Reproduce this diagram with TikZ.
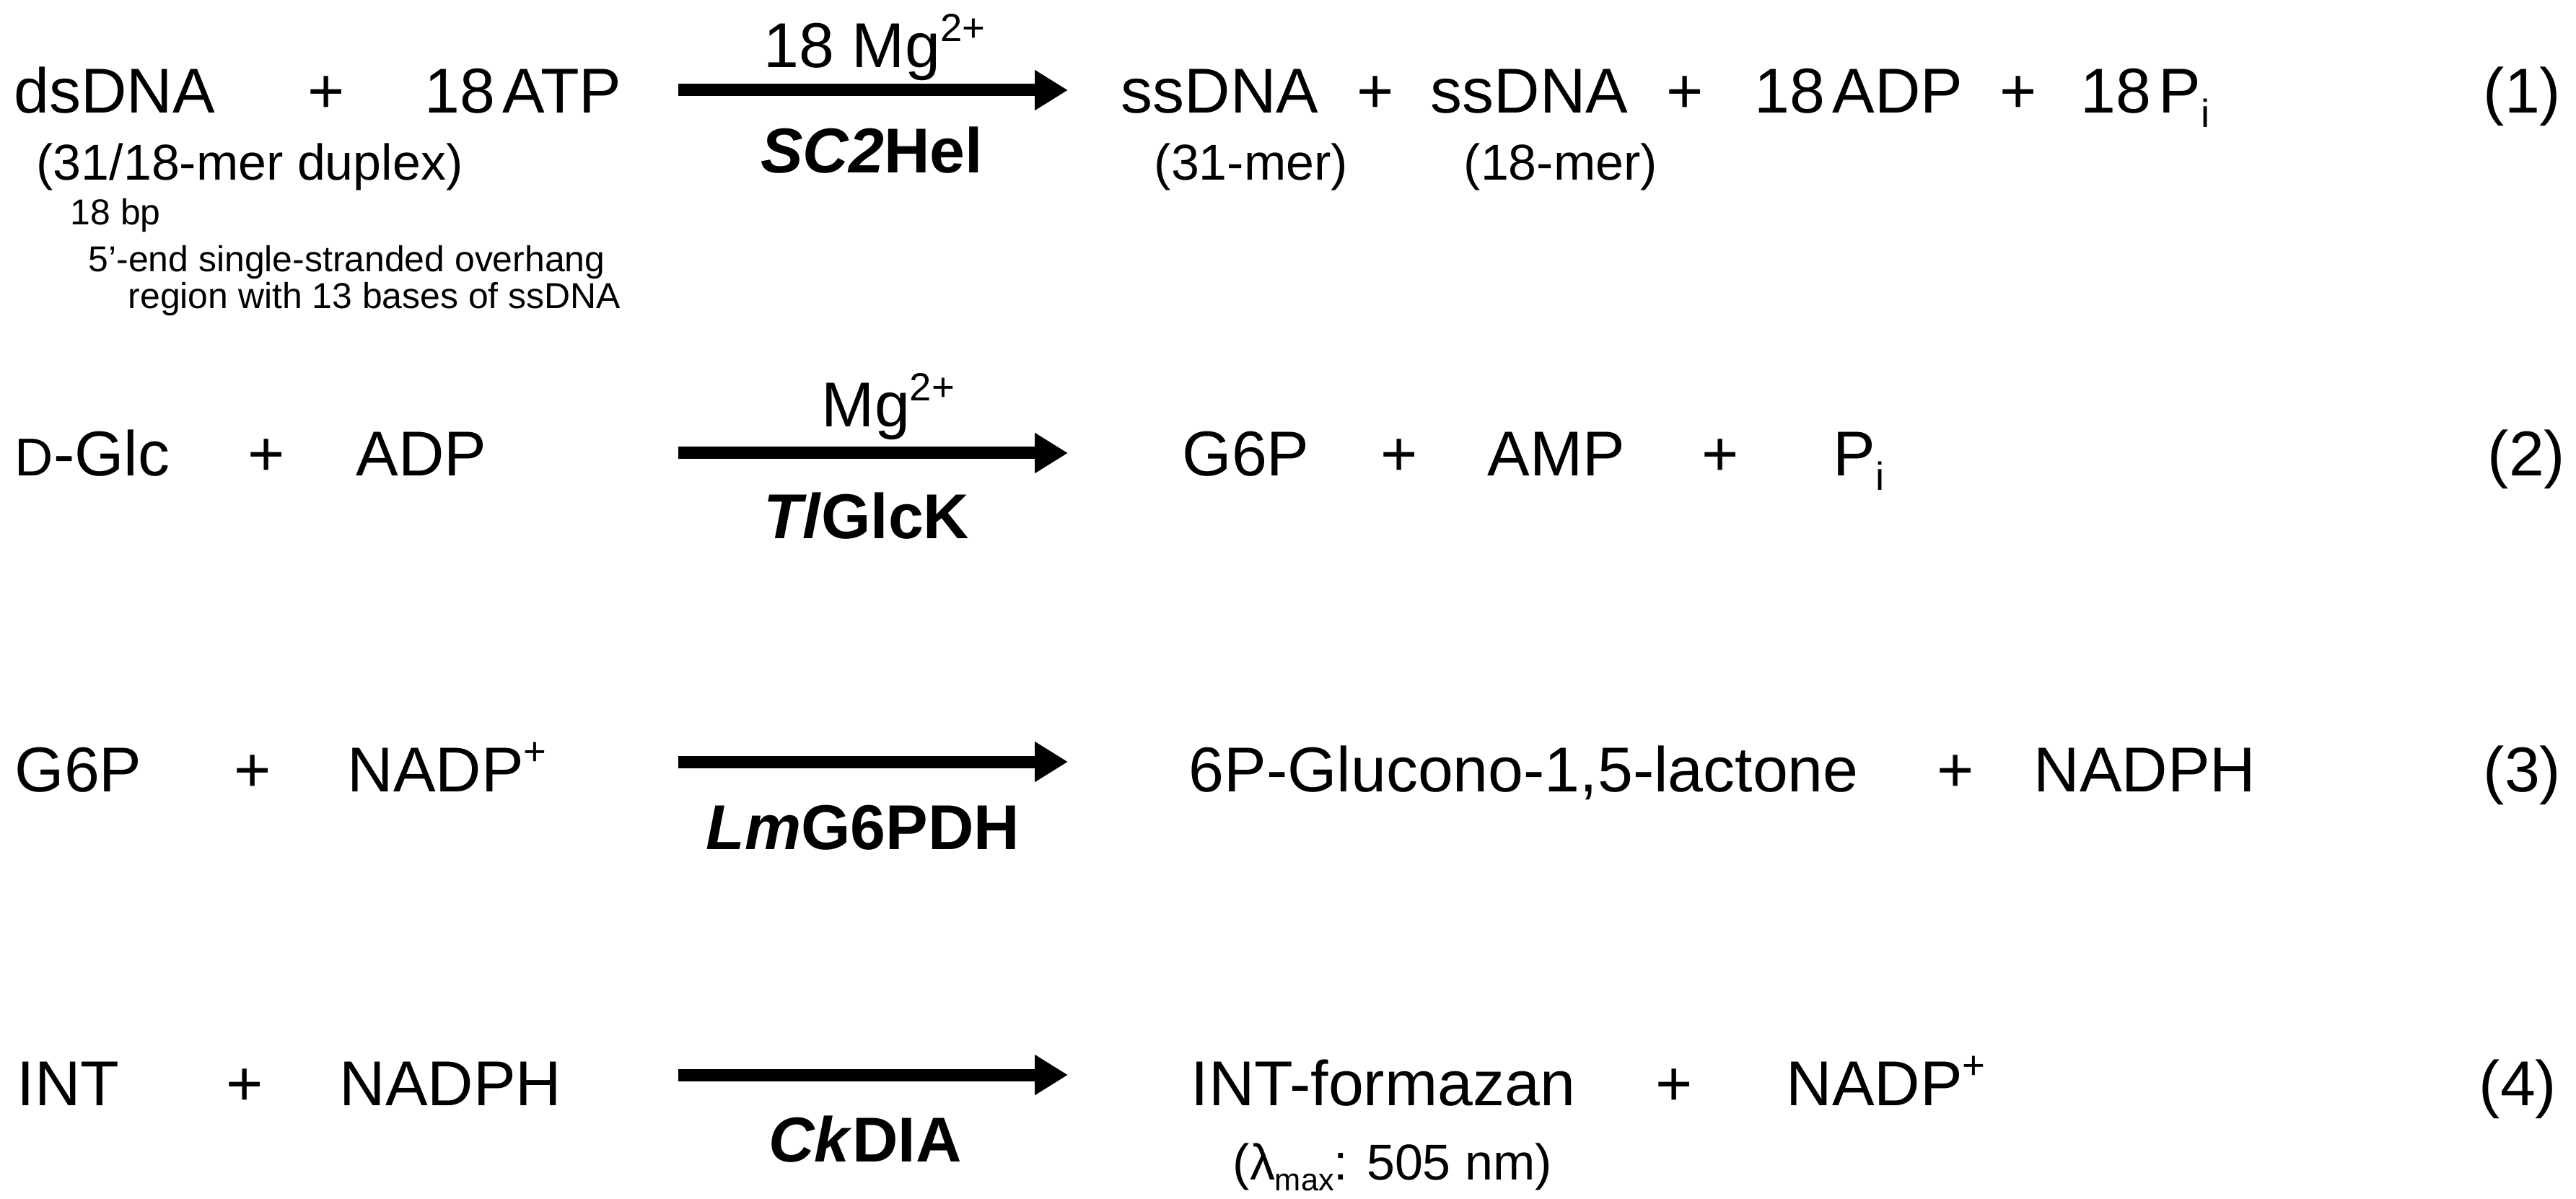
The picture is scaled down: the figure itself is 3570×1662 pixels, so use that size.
\documentclass[tikz,border=0pt]{standalone}
\usepackage{fontspec}
\setmainfont{Liberation Sans}
\usepackage{graphicx}
\usetikzlibrary{arrows.meta}

\newcommand\bigsz{\fontsize{25pt}{30pt}\selectfont}
\newcommand\midsz{\fontsize{19.9pt}{24pt}\selectfont}
\newcommand\smsz{\fontsize{14.2pt}{17pt}\selectfont}
\newcommand\sups[1]{\raisebox{0.42em}{\scalebox{0.62}{#1}}}
\newcommand\subs[1]{\raisebox{-0.22em}{\scalebox{0.62}{#1}}}
\newcommand\nsp{\hspace{0.12em}}

\begin{document}
\begin{tikzpicture}[x=0.1mm, y=-0.1mm,
    spc/.style={font=\bigsz, anchor=base west, inner sep=0pt},
    plus/.style={font=\bigsz, anchor=base, inner sep=0pt},
    enz/.style={font=\bigsz\bfseries, anchor=base, inner sep=0pt},
    note/.style={font=\midsz, anchor=base west, inner sep=0pt},
    fine/.style={font=\smsz, anchor=base west, inner sep=0pt},
    rxn/.style={line width=1.7mm, -{Triangle[length=4.6mm,width=5.3mm]}}]
    \useasboundingbox (0,0) rectangle (3570,1662);

    % Reaction 1: helicase unwinding
    \node[spc] (r1a) at (19,157) {dsDNA};
    \node[plus] (p1a) at (452,157) {+};
    \node[spc] (r1b) at (588,157) {18\nsp ATP};
    \coordinate (a1s) at (940,125);
    \coordinate (a1e) at (1480,125);
    \draw[rxn] (a1s) -- (a1e);
    \node[plus] (m1) at (1212,94) {18 Mg\sups{2+}};
    \node[enz] (e1) at (1208,240) {\textit{SC2}Hel};
    \node[spc] (q1a) at (1553,157) {ssDNA};
    \node[plus] (p1b) at (1906,157) {+};
    \node[spc] (q1b) at (1982,157) {ssDNA};
    \node[plus] (p1c) at (2335,157) {+};
    \node[spc] (q1c) at (2431,157) {18\nsp ADP};
    \node[plus] (p1d) at (2797,157) {+};
    \node[spc] (q1d) at (2883,157) {18\nsp P\subs{i}};
    \node[spc] (n1) at (3441,157) {(1)};
    \node[note] (d1) at (50,250) {(31/18-mer duplex)};
    \node[fine] (s1) at (97,312) {18 bp};
    \node[fine] (s2) at (122,377) {5'-end single-stranded overhang};
    \node[fine] (s3) at (177,428) {region with 13 bases of ssDNA};
    \node[note] (l1a) at (1599,250) {(31-mer)};
    \node[note] (l1b) at (2028,250) {(18-mer)};

    % Reaction 2: glucokinase
    \node[spc] (r2a) at (20,660) {{\fontsize{21pt}{24pt}\selectfont D}-Glc};
    \node[plus] (p2a) at (369,660) {+};
    \node[spc] (r2b) at (493,660) {ADP};
    \coordinate (a2s) at (940,628);
    \coordinate (a2e) at (1480,628);
    \draw[rxn] (a2s) -- (a2e);
    \node[plus] (m2) at (1231,592) {Mg\sups{2+}};
    \node[enz] (e2) at (1201,746) {\textit{Tl}GlcK};
    \node[spc] (q2a) at (1638,660) {G6P};
    \node[plus] (p2b) at (1939,660) {+};
    \node[spc] (q2b) at (2061,660) {AMP};
    \node[plus] (p2c) at (2384,660) {+};
    \node[spc] (q2c) at (2540,660) {P\subs{i}};
    \node[spc] (n2) at (3447,660) {(2)};

    % Reaction 3: G6P dehydrogenase
    \node[spc] (r3a) at (20,1097) {G6P};
    \node[plus] (p3a) at (350,1097) {+};
    \node[spc] (r3b) at (481,1097) {NADP\sups{+}};
    \coordinate (a3s) at (940,1056);
    \coordinate (a3e) at (1480,1056);
    \draw[rxn] (a3s) -- (a3e);
    \node[enz] (e3) at (1196,1177) {\textit{Lm}G6PDH};
    \node[spc] (q3a) at (1647,1097) {6P-Glucono-1,5-lactone};
    \node[plus] (p3b) at (2710,1097) {+};
    \node[spc] (q3b) at (2818,1097) {NADPH};
    \node[spc] (n3) at (3441,1097) {(3)};

    % Reaction 4: diaphorase
    \node[spc] (r4a) at (23,1532) {INT};
    \node[plus] (p4a) at (339,1532) {+};
    \node[spc] (r4b) at (470,1532) {NADPH};
    \coordinate (a4s) at (940,1490);
    \coordinate (a4e) at (1480,1490);
    \draw[rxn] (a4s) -- (a4e);
    \node[enz] (e4) at (1199,1610) {\textit{Ck}DIA};
    \node[spc] (q4a) at (1650,1532) {INT-formazan};
    \node[plus] (p4b) at (2320,1532) {+};
    \node[spc] (q4b) at (2475,1532) {NADP\sups{+}};
    \node[spc] (n4) at (3435,1532) {(4)};
    \node[note] (w4) at (1708,1635) {(λ\subs{max}: 505 nm)};
\end{tikzpicture}
\end{document}
